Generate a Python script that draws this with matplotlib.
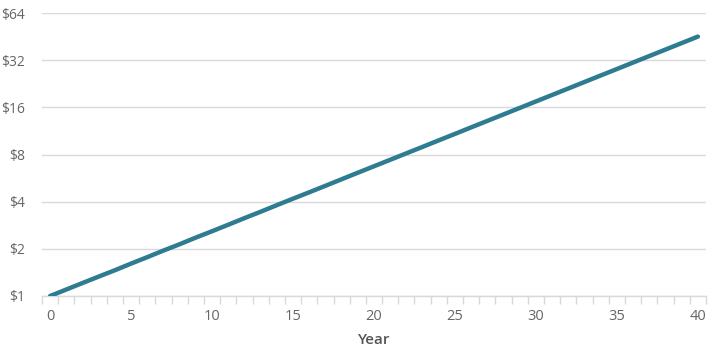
import matplotlib
matplotlib.use("Agg")
import matplotlib.pyplot as plt
from matplotlib.ticker import FixedLocator, FixedFormatter

plt.rcParams['font.family'] = ['Open Sans', 'DejaVu Sans']

# donnees
annees = list(range(0, 41))
valeurs = [1.00, 1.10, 1.21, 1.33, 1.46, 1.61, 1.77, 1.95, 2.14, 2.36,
           2.59, 2.85, 3.14, 3.45, 3.80, 4.18, 4.59, 5.05, 5.56, 6.12,
           6.73, 7.40, 8.14, 8.95, 9.85, 10.83, 11.92, 13.11, 14.42, 15.86,
           17.45, 19.19, 21.11, 23.23, 25.55, 28.10, 30.91, 34.00, 37.40, 41.14,
           45.26]
y_ticks = [1, 2, 4, 8, 16, 32, 64]
y_labels = ['$1', '$2', '$4', '$8', '$16', '$32', '$64']
x_ticks = [0, 5, 10, 15, 20, 25, 30, 35, 40]

gris_texte = '#666666'
gris_grille = '#d9d9d9'

fig = plt.figure(figsize=(7.15, 3.53), dpi=100)
ax = fig.add_axes([42 / 715, 1 - 296 / 353, 664 / 715, (296 - 13) / 353])

ax.plot(annees, valeurs, color='#2f7b92', linewidth=3.2, solid_capstyle='round', zorder=3)

ax.set_yscale('log', base=2)
ax.set_ylim(1, 64)
ax.set_xlim(-0.5, 40.5)

ax.yaxis.set_major_locator(FixedLocator(y_ticks))
ax.yaxis.set_major_formatter(FixedFormatter(y_labels))
ax.yaxis.set_minor_locator(FixedLocator([]))
ax.grid(axis='y', color=gris_grille, linewidth=1)
ax.set_axisbelow(True)

ax.set_xticks(x_ticks)
ax.set_xticks([i - 0.5 for i in range(0, 42)], minor=True)
ax.tick_params(axis='x', which='major', length=0, pad=9, labelsize=10.5, labelcolor=gris_texte)
ax.tick_params(axis='x', which='minor', length=6, width=1, color=gris_grille)
ax.tick_params(axis='y', which='both', length=0, pad=12, labelsize=10, labelcolor=gris_texte)

for cote in ['top', 'right', 'left']:
    ax.spines[cote].set_visible(False)
ax.spines['bottom'].set_color(gris_grille)
ax.spines['bottom'].set_linewidth(1)

ax.set_xlabel('Year', fontsize=11, color='#555555', fontweight='semibold', labelpad=7)

fig.savefig('out.png', dpi=100)
